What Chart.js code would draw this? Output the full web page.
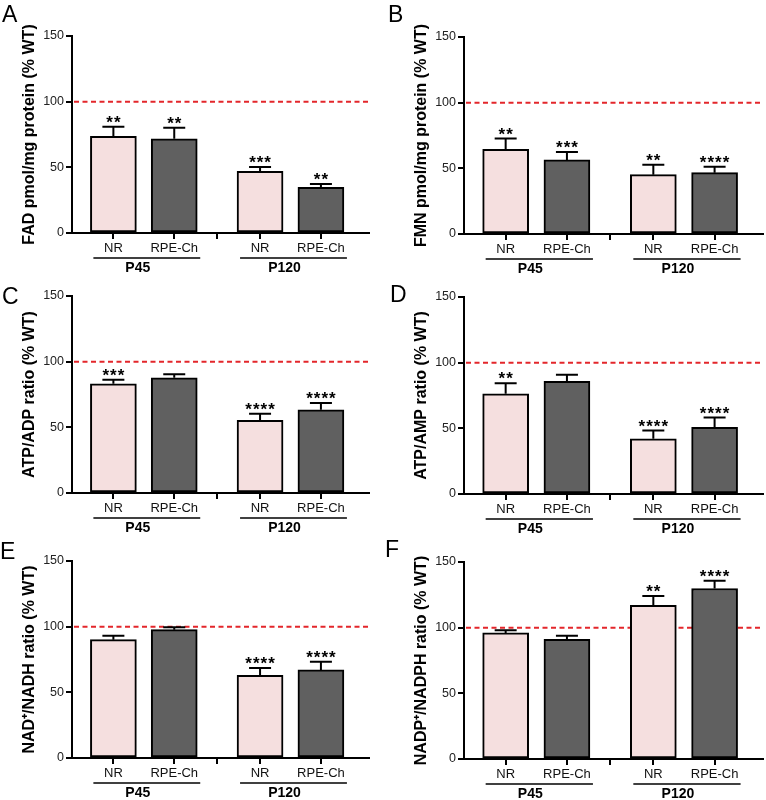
<!DOCTYPE html>
<html lang="en">
<head>
<meta charset="UTF-8">
<title>Flavin / nucleotide ratios</title>
<script src="https://cdn.jsdelivr.net/npm/chart.js"></script>
<style>
  html, body { margin: 0; padding: 0; background: #fff; width: 766px; height: 800px; overflow: hidden; }
  .panel { position: absolute; }
</style>
</head>
<body>
<div id="wrap"></div>
<script>
// ---- data (bar order: P45 NR, P45 RPE-Ch, P120 NR, P120 RPE-Ch) ----
const conditions = ['NR', 'RPE-Ch'];
const ages = ['P45', 'P120'];
const panelLetters = ['A', 'B', 'C', 'D', 'E', 'F'];
const yTitles = [
  'FAD pmol/mg protein (% WT)',
  'FMN pmol/mg protein (% WT)',
  'ATP/ADP ratio (% WT)',
  'ATP/AMP ratio (% WT)',
  'NAD\u207A/NADH ratio (% WT)',
  'NADP\u207A/NADPH ratio (% WT)'
];
const refValue = 100;

const fadMean = [73.7, 71.7, 47.0, 34.8];
const fadSem = [7.2, 8.4, 3.3, 2.6];
const fadStars = ['**', '**', '***', '**'];

const fmnMean = [64.5, 56.4, 45.2, 46.7];
const fmnSem = [8.2, 6.1, 7.6, 4.6];
const fmnStars = ['**', '***', '**', '****'];

const atpAdpMean = [83.1, 87.7, 55.4, 63.3];
const atpAdpSem = [3.1, 2.8, 4.9, 5.3];
const atpAdpStars = ['***', '', '****', '****'];

const atpAmpMean = [76.3, 85.7, 42.0, 50.8];
const atpAmpSem = [8.1, 5.1, 6.3, 7.4];
const atpAmpStars = ['**', '', '****', '****'];

const nadMean = [90.1, 97.7, 63.0, 67.1];
const nadSem = [3.0, 1.8, 5.6, 6.1];
const nadStars = ['', '', '****', '****'];

const nadpMean = [96.0, 91.1, 117.0, 129.8];
const nadpSem = [2.0, 2.8, 7.1, 5.9];
const nadpStars = ['', '', '**', '****'];

// ---- styling / layout ----
const FONT = '"Liberation Sans", Arial, Helvetica, sans-serif';
const barColors = ['#f5dfdf', '#606060'];
const groupStep = 2.41;           // distance between age groups, in bar units
const xMin = -0.68, xMax = 4.2;

const panels = [
  { mean: fadMean, sem: fadSem, stars: fadStars },
  { mean: fmnMean, sem: fmnSem, stars: fmnStars },
  { mean: atpAdpMean, sem: atpAdpSem, stars: atpAdpStars },
  { mean: atpAmpMean, sem: atpAmpSem, stars: atpAmpStars },
  { mean: nadMean, sem: nadSem, stars: nadStars },
  { mean: nadpMean, sem: nadpSem, stars: nadpStars }
];
// canvas placement + letter position (relative to canvas)
const layout = [
  { col: 0, top: 0,   lx: 2, ly: 5 },
  { col: 1, top: 1,   lx: 5, ly: 4 },
  { col: 0, top: 260, lx: 2, ly: 27 },
  { col: 1, top: 261, lx: 7, ly: 24 },
  { col: 0, top: 525, lx: 0, ly: 17 },
  { col: 1, top: 526, lx: 2, ly: 14 }
];
const colCfg = [
  { plotLeft: 72, plotRight: 369, titlePad: 20 },
  { plotLeft: 81, plotRight: 380, titlePad: 29 }
];

const barX = k => Math.floor(k / 2) * groupStep + (k % 2);
const tickValues = [0, 1, (1 + groupStep) / 2, groupStep, groupStep + 1];
const tickLabels = [conditions[0], conditions[1], '', conditions[0], conditions[1]];

function makePanel(idx) {
  const p = panels[idx], L = layout[idx], C = colCfg[L.col];
  const W = 383, H = 280;
  const div = document.createElement('div');
  div.className = 'panel';
  div.style.left = (L.col * 383) + 'px';
  div.style.top = L.top + 'px';
  const cv = document.createElement('canvas');
  cv.width = W; cv.height = H;
  cv.style.width = W + 'px'; cv.style.height = H + 'px';
  div.appendChild(cv);
  document.getElementById('wrap').appendChild(div);

  const refLine = {
    id: 'refLine',
    beforeDatasetsDraw(chart) {
      const { ctx, chartArea: a, scales: { y } } = chart;
      const py = y.getPixelForValue(refValue);
      ctx.save();
      ctx.strokeStyle = '#e3262b';
      ctx.lineWidth = 2;
      ctx.setLineDash([5, 3.5]);
      ctx.beginPath();
      ctx.moveTo(a.left + 2, py);
      ctx.lineTo(a.right, py);
      ctx.stroke();
      ctx.restore();
    }
  };

  const errorBars = {
    id: 'errorBars',
    afterDatasetsDraw(chart) {
      const { ctx, scales: { y } } = chart;
      const bars = chart.getDatasetMeta(0).data;
      ctx.save();
      ctx.strokeStyle = '#000';
      ctx.fillStyle = '#000';
      ctx.lineWidth = 2;
      bars.forEach((b, k) => {
        const top = y.getPixelForValue(p.mean[k] + p.sem[k]);
        ctx.beginPath();
        ctx.moveTo(b.x, b.y);
        ctx.lineTo(b.x, top);
        ctx.moveTo(b.x - 11, top);
        ctx.lineTo(b.x + 11, top);
        ctx.stroke();
        if (p.stars[k]) {
          ctx.font = 'bold 17px ' + FONT;
          ctx.letterSpacing = '1px';
          ctx.textAlign = 'center';
          ctx.textBaseline = 'alphabetic';
          ctx.fillText(p.stars[k], b.x + 0.5, top + 1);
          ctx.letterSpacing = '0px';
        }
      });
      ctx.restore();
    }
  };

  const decor = {
    id: 'decor',
    afterDraw(chart) {
      const { ctx, chartArea: a, scales: { x } } = chart;
      ctx.save();
      // panel letter
      ctx.fillStyle = '#000';
      ctx.font = '23px ' + FONT;
      ctx.textAlign = 'left';
      ctx.textBaseline = 'alphabetic';
      ctx.fillText(panelLetters[idx], L.lx, L.ly + 16.5);
      // age group brackets
      ctx.strokeStyle = '#000';
      ctx.lineWidth = 1.6;
      ctx.font = 'bold 14px ' + FONT;
      ctx.textAlign = 'center';
      ctx.textBaseline = 'middle';
      ages.forEach((g, gi) => {
        const x0 = x.getPixelForValue(gi * groupStep);
        const x1 = x.getPixelForValue(gi * groupStep + 1);
        const ly = a.bottom + 25;
        ctx.beginPath();
        ctx.moveTo(x0 - 20, ly);
        ctx.lineTo(x1 + 26, ly);
        ctx.stroke();
        ctx.fillText(g, (x0 + x1) / 2 - 6, a.bottom + 35);
      });
      ctx.restore();
    }
  };

  const axisGrid = {
    drawOnChartArea: false, drawTicks: true, tickLength: 6,
    color: '#000', lineWidth: 2, tickColor: '#000', tickWidth: 2
  };

  new Chart(cv, {
    type: 'bar',
    data: {
      datasets: [{
        data: p.mean.map((m, k) => ({ x: barX(k), y: m })),
        backgroundColor: p.mean.map((m, k) => barColors[k % 2]),
        borderColor: '#000',
        borderWidth: 2,
        borderSkipped: false,
        barThickness: 46
      }]
    },
    options: {
      responsive: false,
      animation: false,
      events: [],
      layout: { padding: { left: 0, right: W - C.plotRight, top: 36, bottom: 0 } },
      plugins: { legend: { display: false }, tooltip: { enabled: false } },
      scales: {
        x: {
          type: 'linear',
          min: xMin,
          max: xMax,
          offset: false,
          afterBuildTicks: s => { s.ticks = tickValues.map(v => ({ value: v })); },
          afterFit: s => { s.height = H - 233; },
          ticks: {
            autoSkip: false,
            maxRotation: 0,
            padding: 2,
            color: '#111',
            font: { family: FONT, size: 13 },
            callback: (v, i) => tickLabels[i]
          },
          grid: Object.assign({ offset: false }, axisGrid),
          border: { display: true, color: '#000', width: 2 }
        },
        y: {
          min: 0,
          max: 150,
          afterFit: s => { s.width = C.plotLeft; },
          ticks: {
            stepSize: 50,
            padding: 2,
            color: '#222',
            font: { family: FONT, size: 12.5 }
          },
          grid: Object.assign({}, axisGrid),
          border: { display: true, color: '#000', width: 2 },
          title: {
            display: true,
            text: yTitles[idx],
            color: '#000',
            font: { family: FONT, size: 16, weight: 'bold' },
            padding: { top: C.titlePad, bottom: 0 }
          }
        }
      }
    },
    plugins: [refLine, errorBars, decor]
  });
}

panels.forEach((p, i) => makePanel(i));
</script>
</body>
</html>
